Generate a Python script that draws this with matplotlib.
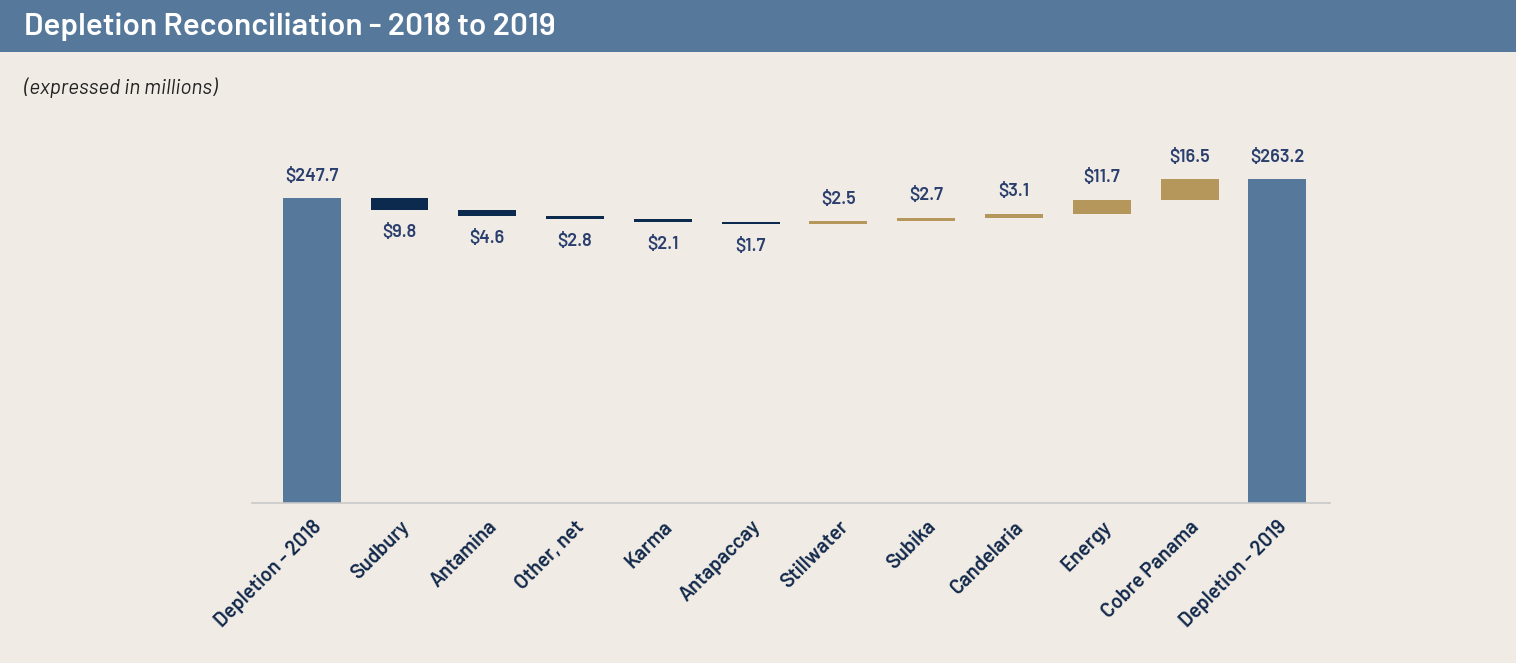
"""
Depletion reconciliation waterfall
"""

import matplotlib

matplotlib.use("Agg")
import matplotlib.pyplot as plt
import numpy as np
from matplotlib.patches import Rectangle

plt.rcParams["font.family"] = ["Barlow", "Barlow Semi Condensed", "DejaVu Sans"]

## Data (millions)
categories = [
    "Depletion - 2018",
    "Sudbury",
    "Antamina",
    "Other, net",
    "Karma",
    "Antapaccay",
    "Stillwater",
    "Subika",
    "Candelaria",
    "Energy",
    "Cobre Panama",
    "Depletion - 2019",
]
start_value = 247.7
changes = [-9.8, -4.6, -2.8, -2.1, -1.7, 2.5, 2.7, 3.1, 11.7, 16.5]
end_value = 263.2

BG = "#f0ece5"
HEADER = "#56789a"
TOTAL_C = "#56789a"
DOWN_C = "#0b2a4d"
UP_C = "#b5975c"
LABEL_C = "#2b3f6e"
TICK_C = "#13294b"


def plot_data() -> None:
    fig = plt.figure(figsize=(15.16, 6.63), dpi=100, facecolor=BG)

    # header band
    band_h = 52 / 663
    fig.patches.append(
        Rectangle((0, 1 - band_h), 1, band_h, transform=fig.transFigure,
                  facecolor=HEADER, edgecolor="none", zorder=0)
    )
    fig.text(24 / 1516, 1 - 27 / 663, "Depletion Reconciliation - 2018 to 2019",
             color="white", fontsize=22.7, fontweight="semibold", va="center", ha="left")
    fig.text(24 / 1516, 1 - 88 / 663, "(expressed in millions)",
             color="#222222", fontsize=15, style="italic", va="center", ha="left")

    ax = fig.add_axes([252 / 1516, 0.2409, (1330 - 252) / 1516, 0.5386])
    ax.set_facecolor(BG)

    x = np.arange(len(categories))
    width = 0.66
    pad = 11.0  # label offset in data units
    lab = dict(color=LABEL_C, fontsize=13, fontweight="semibold", ha="center")

    # totals
    for xi, val in ((x[0], start_value), (x[-1], end_value)):
        ax.bar(xi, val, width=width, color=TOTAL_C)
        ax.text(xi, val + pad, f"${val:.1f}", va="bottom", **lab)

    level = start_value
    for i, ch in enumerate(changes):
        xi = x[i + 1]
        if ch < 0:
            ax.bar(xi, -ch, bottom=level + ch, width=width, color=DOWN_C)
            ax.text(xi, level + ch - pad, f"${-ch:.1f}", va="top", **lab)
        else:
            ax.bar(xi, ch, bottom=level, width=width, color=UP_C)
            ax.text(xi, level + ch + pad, f"${ch:.1f}", va="bottom", **lab)
        level += ch

    ax.set_xlim(-0.68, 11.6)
    ax.set_ylim(0, 290)
    ax.set_xticks(x)
    ax.set_xticklabels(categories, rotation=45, ha="right", rotation_mode="anchor",
                       color=TICK_C, fontsize=14.5, fontweight="semibold")
    ax.tick_params(axis="x", length=0, pad=10)
    ax.set_yticks([])
    for side in ("left", "right", "top"):
        ax.spines[side].set_visible(False)
    ax.spines["bottom"].set_color("#c8c8c8")
    ax.spines["bottom"].set_linewidth(1.2)

    fig.savefig("out.png", dpi=100, facecolor=BG)


if __name__ == "__main__":
    plot_data()
